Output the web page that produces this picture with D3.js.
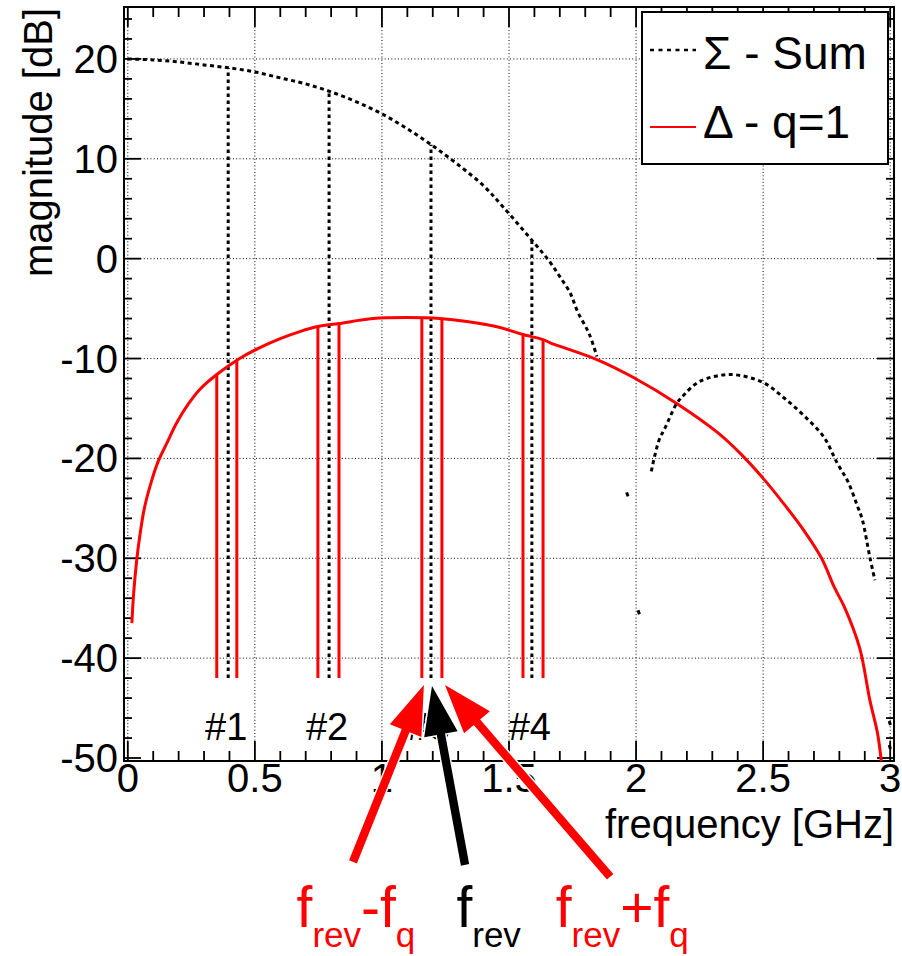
<!DOCTYPE html>
<html>
<head>
<meta charset="utf-8">
<script src="https://cdn.jsdelivr.net/npm/d3@7/dist/d3.min.js"></script>
<style>
  body { margin: 0; background: #fff; }
  svg { display: block; font-family: "Liberation Sans", Arial, Helvetica, sans-serif; }
</style>
</head>
<body>
<svg id="chart" width="902" height="956"></svg>
<script>
// sum signal (Σ), first lobe
const sumFreq = [0, 0.1, 0.2, 0.3, 0.4, 0.5, 0.6, 0.7, 0.8, 0.9, 1.0, 1.1, 1.2, 1.3, 1.4, 1.476, 1.595, 1.66, 1.70, 1.74, 1.77, 1.815, 1.846];
const sumDb   = [20.0, 19.9, 19.7, 19.4, 19.1, 18.7, 18.1, 17.5, 16.7, 15.7, 14.5, 13.0, 11.3, 9.4, 7.3, 5.2, 1.7, -0.3, -1.8, -3.4, -5.3, -7.5, -9.8];
// sum signal, second lobe
const sumFreq2 = [2.06, 2.09, 2.115, 2.16, 2.19, 2.25, 2.37, 2.50, 2.58, 2.66, 2.74, 2.79, 2.835, 2.87, 2.89, 2.92, 2.94];
const sumDb2   = [-21.3, -18.2, -16.9, -14.5, -13.6, -12.3, -11.6, -12.4, -13.9, -15.7, -17.9, -20.4, -22.4, -24.7, -26.1, -29.9, -32.2];
// lone sum samples around the nulls
const sumDotFreq = [1.965, 2.01, 2.998, 2.998];
const sumDotDb   = [-23.6, -35.4, -46.5, -48.9];

// difference signal (Δ, q=1)
const deltaFreq = [0.016, 0.023, 0.035, 0.047, 0.065, 0.093, 0.118, 0.153, 0.193, 0.237, 0.283, 0.35, 0.44, 0.52, 0.60, 0.677, 0.748, 0.83, 0.965, 1.1, 1.228, 1.334, 1.465, 1.555, 1.634, 1.66, 1.846, 1.99, 2.16, 2.32, 2.41, 2.50, 2.58, 2.66, 2.73, 2.78, 2.82, 2.88, 2.92, 2.95, 2.965];
const deltaDb   = [-36.5, -33.5, -30.2, -27.8, -25.0, -22.3, -20.4, -18.5, -16.4, -14.6, -13.1, -11.6, -10.0, -8.9, -8.0, -7.3, -6.8, -6.5, -6.0, -5.9, -6.0, -6.3, -6.9, -7.6, -8.1, -8.4, -10.1, -11.9, -14.5, -17.4, -19.5, -22.0, -24.5, -27.2, -30.0, -32.9, -34.9, -39.0, -44.2, -47.5, -50.3];

// revolution harmonics and their betatron sidebands
const markerLabels = ["#1", "#2", "#3", "#4"];
const revFreq   = [0.395, 0.792, 1.193, 1.590];
const sumAtRev  = [19.1, 16.7, 11.4, 1.8];
const lowerFreq = [0.350, 0.748, 1.157, 1.555];
const upperFreq = [0.429, 0.831, 1.236, 1.634];
const deltaAtLower = [-11.6, -6.8, -6.0, -7.6];
const deltaAtUpper = [-10.2, -6.5, -6.0, -8.1];
const markerBottom = -42;
const markerLabelDb = -48.2;

// arrows (freq, dB) and their labels
const arrowTipFreq  = [1.165, 1.248, 1.197];
const arrowTipDb    = [-42.7, -42.7, -42.8];
const arrowTailFreq = [0.886, 1.898, 1.327];
const arrowTailDb   = [-60.4, -61.9, -60.7];
const arrowColors   = ["#ff0000", "#ff0000", "#000000"];
const noteFreq  = [0.664, 1.293, 1.684];
const noteDb    = -66.9;
const noteParts = [
  [["f", false], ["rev", true], ["-f", false], ["q", true]],
  [["f", false], ["rev", true]],
  [["f", false], ["rev", true], ["+f", false], ["q", true]]
];
const noteColors = ["#ff0000", "#000000", "#ff0000"];

const xTicks = [0, 0.5, 1, 1.5, 2, 2.5, 3];
const xTickLabels = ["0", "0.5", "1", "1.5", "2", "2.5", "3"];
const yTicks = [20, 10, 0, -10, -20, -30, -40, -50];
const yTickLabels = ["20", "10", "0", "-10", "-20", "-30", "-40", "-50"];

const legendLabels = ["\u03A3 - Sum", "\u0394 - q=1"];

// ---------------------------------------------------------------
const svg = d3.select("#chart");
const L = 124, R = 894, T = 7, B = 761;

const x = d3.scaleLinear().domain([-0.015, 3.015]).range([L, R]);
const y = d3.scaleLinear().domain([-50.3, 25.2]).range([B, T]);

svg.append("defs").append("clipPath").attr("id", "frame")
   .append("rect").attr("x", L).attr("y", T).attr("width", R - L).attr("height", B - T);

// grid
const grid = svg.append("g").attr("stroke", "#000").attr("stroke-width", 1).attr("stroke-dasharray", "1,2.3");
grid.selectAll("line.gx").data(xTicks).enter().append("line")
    .attr("x1", d => x(d)).attr("x2", d => x(d)).attr("y1", T).attr("y2", B);
grid.selectAll("line.gy").data(yTicks.filter(d => d > -50)).enter().append("line")
    .attr("y1", d => y(d)).attr("y2", d => y(d)).attr("x1", L).attr("x2", R);

// ticks on all four sides
const xMinor = d3.range(0, 31).map(i => i / 10);
const yMinor = d3.range(-50, 25, 2);
const ticks = svg.append("g").attr("stroke", "#000").attr("stroke-width", 1.8);
xMinor.forEach(v => {
  const big = Math.abs(v * 2 - Math.round(v * 2)) < 1e-6;
  const len = big ? 20 : 10;
  ticks.append("line").attr("x1", x(v)).attr("x2", x(v)).attr("y1", B).attr("y2", B - len);
  ticks.append("line").attr("x1", x(v)).attr("x2", x(v)).attr("y1", T).attr("y2", T + len);
});
yMinor.forEach(v => {
  const big = v % 10 === 0;
  const len = big ? 17 : 8;
  ticks.append("line").attr("y1", y(v)).attr("y2", y(v)).attr("x1", L).attr("x2", L + len);
  ticks.append("line").attr("y1", y(v)).attr("y2", y(v)).attr("x1", R).attr("x2", R - len);
});

// frame
svg.append("rect").attr("x", L).attr("y", T).attr("width", R - L).attr("height", B - T)
   .attr("fill", "none").attr("stroke", "#000").attr("stroke-width", 2);

// tick labels
svg.append("g").selectAll("text").data(xTicks).enter().append("text")
   .attr("x", d => x(d)).attr("y", B + 31).attr("text-anchor", "middle")
   .attr("font-size", 40).text((d, i) => xTickLabels[i]);
svg.append("g").selectAll("text").data(yTicks).enter().append("text")
   .attr("x", L - 6).attr("y", d => y(d) + 14).attr("text-anchor", "end")
   .attr("font-size", 40).text((d, i) => yTickLabels[i]);

// axis titles
svg.append("text").attr("x", R).attr("y", 838).attr("text-anchor", "end")
   .attr("font-size", 40).text("frequency [GHz]");
svg.append("text").attr("transform", `translate(52,${T + 1}) rotate(-90)`)
   .attr("text-anchor", "end").attr("font-size", 40).text("magnitude [dB]");

const plot = svg.append("g").attr("clip-path", "url(#frame)");

// marker lines
revFreq.forEach((f, i) => {
  plot.append("line").attr("x1", x(f)).attr("x2", x(f))
      .attr("y1", y(markerBottom)).attr("y2", y(sumAtRev[i]))
      .attr("stroke", "#000").attr("stroke-width", 3).attr("stroke-dasharray", "3.5,3.5");
  [[lowerFreq[i], deltaAtLower[i]], [upperFreq[i], deltaAtUpper[i]]].forEach(([fs, db]) => {
    plot.append("line").attr("x1", x(fs)).attr("x2", x(fs))
        .attr("y1", y(markerBottom)).attr("y2", y(db))
        .attr("stroke", "#ff0000").attr("stroke-width", 3);
  });
  svg.append("text").attr("x", x(f) - 2).attr("y", y(markerLabelDb))
     .attr("text-anchor", "middle").attr("font-size", 38).text(markerLabels[i]);
});

// Δ curve
const line = d3.line().x(d => x(d[0])).y(d => y(d[1])).curve(d3.curveCatmullRom.alpha(0.5));
plot.append("path").datum(deltaFreq.map((f, i) => [f, deltaDb[i]]))
    .attr("d", line).attr("fill", "none").attr("stroke", "#ff0000").attr("stroke-width", 3);

// Σ curve
[[sumFreq, sumDb], [sumFreq2, sumDb2]].forEach(([fs, dbs]) => {
  plot.append("path").datum(fs.map((f, i) => [f, dbs[i]]))
      .attr("d", line).attr("fill", "none").attr("stroke", "#000")
      .attr("stroke-width", 3).attr("stroke-dasharray", "4,3.5");
});
sumDotFreq.forEach((f, i) => {
  plot.append("line").attr("x1", x(f) - 0.5).attr("x2", x(f) + 0.8)
      .attr("y1", y(sumDotDb[i]) - 2).attr("y2", y(sumDotDb[i]) + 2)
      .attr("stroke", "#000").attr("stroke-width", 3);
});

// legend
const lg = svg.append("g");
lg.append("rect").attr("x", 642).attr("y", 12).attr("width", 246).attr("height", 152)
  .attr("fill", "#fff").attr("stroke", "#000").attr("stroke-width", 2);
lg.append("line").attr("x1", 650).attr("x2", 696).attr("y1", 50).attr("y2", 50)
  .attr("stroke", "#000").attr("stroke-width", 2.5).attr("stroke-dasharray", "4,4.5");
lg.append("line").attr("x1", 650).attr("x2", 696).attr("y1", 127).attr("y2", 127)
  .attr("stroke", "#ff0000").attr("stroke-width", 2);
lg.selectAll("text").data(legendLabels).enter().append("text")
  .attr("x", 703).attr("y", (d, i) => 69 + i * 69).attr("font-size", 46).text(d => d);

// arrows
function arrowPath(x0, y0, x1, y1) {
  const dx = x1 - x0, dy = y1 - y0, len = Math.hypot(dx, dy);
  const ux = dx / len, uy = dy / len, nx = -uy, ny = ux;
  const w = 4.2, hl = 49, hw = 17;
  const bx = x1 - ux * hl, by = y1 - uy * hl;
  const pts = [
    [x0 + nx * w, y0 + ny * w], [bx + nx * w, by + ny * w], [bx + nx * hw, by + ny * hw],
    [x1, y1],
    [bx - nx * hw, by - ny * hw], [bx - nx * w, by - ny * w], [x0 - nx * w, y0 - ny * w]
  ];
  return "M" + pts.map(p => p.join(",")).join("L") + "Z";
}
arrowTipFreq.forEach((f, i) => {
  svg.append("path")
     .attr("d", arrowPath(x(arrowTailFreq[i]), y(arrowTailDb[i]), x(f), y(arrowTipDb[i])))
     .attr("fill", arrowColors[i]).attr("stroke", "#fff").attr("stroke-width", 3)
     .style("paint-order", "stroke");
});

// arrow notes with subscripts
noteFreq.forEach((f, i) => {
  const t = svg.append("text").attr("x", x(f)).attr("y", y(noteDb)).attr("fill", noteColors[i]);
  let sub = false;
  noteParts[i].forEach(([s, isSub]) => {
    const ts = t.append("tspan").attr("font-size", isSub ? 35 : 57).text(s);
    if (isSub && !sub) ts.attr("dy", 20);
    if (!isSub && sub) ts.attr("dy", -20);
    sub = isSub;
  });
});
</script>
</body>
</html>
